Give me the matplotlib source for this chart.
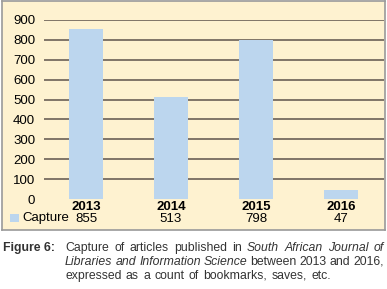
import matplotlib
matplotlib.use("Agg")
import matplotlib.pyplot as plt
from matplotlib.patches import Rectangle

years = ["2013", "2014", "2015", "2016"]
capture = [855, 513, 798, 47]
yticks = [0, 100, 200, 300, 400, 500, 600, 700, 800, 900]
series_name = "Capture"

W, H = 387, 289
fig = plt.figure(figsize=(W / 100, H / 100), dpi=100)
fig.patch.set_facecolor("white")

FONT = ["Liberation Sans", "DejaVu Sans"]
bg = "#FEF2D0"
barc = "#BCD6EE"

# panel
pan = fig.add_axes([1.5 / W, 1 - 230 / H, 383 / W, 229 / H], zorder=0)
pan.set_facecolor(bg)
pan.set_xticks([]); pan.set_yticks([])
for s in pan.spines.values():
    s.set_color("#9a9a9a"); s.set_linewidth(1.2)

ax = fig.add_axes([43.5 / W, 1 - 199 / H, 340 / W, 179 / H], zorder=1)
ax.set_facecolor("none")
x = list(range(len(years)))
ax.bar(x, capture, width=0.4, color=barc, zorder=2)
ax.set_xlim(-0.5, 3.5)
ax.set_ylim(0, 900)
ax.set_yticks(yticks)
ax.set_yticklabels([str(v) for v in yticks], fontfamily=FONT, fontsize=9.5)
for v in yticks[1:]:
    ax.axhline(v, color="#5e544c", linewidth=1.1, zorder=1)
ax.set_xticks([])
for s in ax.spines.values():
    s.set_visible(False)
ax.tick_params(axis="y", length=0, pad=6)

# table below
for i, (yr, val) in enumerate(zip(years, capture)):
    ax.text(i, -0.045, yr, transform=ax.get_xaxis_transform(), ha="center", va="center",
            fontfamily=FONT, fontsize=9.5, fontweight="bold")
    ax.text(i, -0.11, str(val), transform=ax.get_xaxis_transform(), ha="center", va="center",
            fontfamily=FONT, fontsize=9.5)
fig.add_artist(Rectangle((10 / W, 1 - 222 / H), 9 / W, 8 / H,
                         transform=fig.transFigure, facecolor=barc, edgecolor="none", zorder=3))
fig.text(22 / W, 1 - 218.5 / H, series_name, ha="left", va="center",
         fontfamily=FONT, fontsize=9.5, zorder=3)

# caption
cap_col = "#333333"
CS = 8.8
fig.text(3 / W, 1 - 251 / H, "Figure 6:", ha="left", va="baseline", fontfamily=FONT,
         fontsize=CS, fontweight="bold", color=cap_col)

renderer = fig.canvas.get_renderer()

def justify(words, y, x0=65, x1=384):
    arts = []
    for w, it in words:
        t = fig.text(0, 1 - y / H, w, ha="left", va="baseline", fontfamily=FONT,
                     fontsize=CS, style="italic" if it else "normal", color=cap_col)
        arts.append(t)
    widths = [a.get_window_extent(renderer).width for a in arts]
    total = sum(widths)
    gap = (x1 - x0 - total) / (len(arts) - 1)
    xx = x0
    for a, wd in zip(arts, widths):
        a.set_x(xx / W)
        xx += wd + gap

line1 = [("Capture", 0), ("of", 0), ("articles", 0), ("published", 0), ("in", 0),
         ("South", 1), ("African", 1), ("Journal", 1), ("of", 1)]
line2 = [("Libraries", 1), ("and", 1), ("Information", 1), ("Science", 1),
         ("between", 0), ("2013", 0), ("and", 0), ("2016,", 0)]
line3 = [("expressed", 0), ("as", 0), ("a", 0), ("count", 0), ("of", 0),
         ("bookmarks,", 0), ("saves,", 0), ("etc.", 0)]
justify(line1, 251)
justify(line2, 265)
justify(line3, 279, x1=331)

fig.savefig("out.png", dpi=100, facecolor="white")
